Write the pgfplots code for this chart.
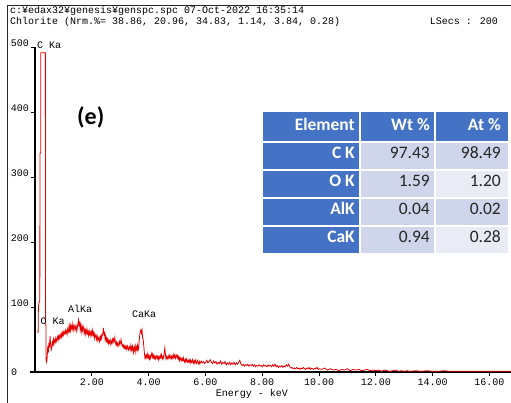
\documentclass[border=0pt]{standalone}
\usepackage{fontspec}
\usepackage{pgfplots}
\pgfplotsset{compat=1.18}
\setmainfont{Carlito}
\newfontfamily\mono{Liberation Mono}
\newcommand{\monof}{\mono\fontsize{10}{11}\selectfont}
\definecolor{hdrblue}{HTML}{4472C4}
\definecolor{cellA}{HTML}{CFD5EA}
\definecolor{cellB}{HTML}{E9EBF5}
\definecolor{specred}{HTML}{E60000}
\definecolor{valtext}{HTML}{262626}
\begin{document}
\begin{tikzpicture}[x=1pt,y=1pt]
\useasboundingbox (0pt,0pt) rectangle (511pt,403pt);
\fill[white] (0pt,0pt) rectangle (511pt,403pt);
% outer frame
\draw[line width=0.9pt, black!85] (7pt,0pt) -- (7pt,398pt) -- (512pt,398pt);
% header text
\node[anchor=base west, inner sep=0pt, font=\monof] at (10pt,389pt) {c:¥edax32¥genesis¥genspc.spc 07-Oct-2022 16:35:14};
\node[anchor=base west, inner sep=0pt, font=\monof] at (10pt,378pt) {Chlorite (Nrm.\%= 38.86, 20.96, 34.83, 1.14, 3.84, 0.28)};
\node[anchor=base east, inner sep=0pt, font=\monof] at (498pt,378pt) {LSecs : 200};

\begin{axis}[
  at={(35pt,31pt)}, anchor=south west,
  scale only axis, width=476pt, height=325pt,
  xmin=0, xmax=16.76, ymin=0, ymax=500,
  axis x line=bottom, axis y line=left,
  axis line style={-, line width=1.2pt, black},
  every inner x axis line/.append style={-},
  every inner y axis line/.append style={-},
  tick align=outside, major tick length=4pt,
  tick style={line width=0.8pt, black},
  xtick={2,4,6,8,10,12,14,16},
  xticklabels={2.00,4.00,6.00,8.00,10.00,12.00,14.00,16.00},
  ytick={100,200,300,400,500},
  yticklabels={100,200,300,400,500},
  tick label style={font=\monof},
  yticklabel style={anchor=south east, inner sep=0pt, xshift=-2pt},
  xticklabel style={anchor=north, inner sep=0pt, yshift=-3pt},
  extra y ticks={0}, extra y tick labels={0},
  extra y tick style={major tick length=0pt, yticklabel style={anchor=west, inner sep=0pt, xshift=-22pt, yshift=0pt}},
  clip mode=individual,
]
\addplot[specred, line width=0.8pt] coordinates {
(0.10,60)(0.11,62)(0.12,100)(0.15,108)(0.17,110)(0.175,337)(0.20,337)(0.205,491)(0.365,491)(0.37,82)(0.385,70)(0.39,18)(0.41,15)(0.43,24)(0.45,40)(0.47,30)(0.49,45)(0.51,38)(0.53,55)(0.55,42)(0.57,34)(0.59,37)(0.61,48)(0.63,40)(0.65,50)(0.67,44)(0.69,49)(0.71,46)(0.73,52)(0.75,47)(0.77,50)(0.79,54)(0.81,49)(0.83,55)(0.85,51)(0.87,56)(0.89,53)(0.91,58)(0.93,54)(0.95,60)(0.97,56)(0.99,62)
(1.01,57)(1.03,61)(1.05,59)(1.07,64)(1.09,60)(1.11,63)(1.13,58)(1.15,66)(1.17,62)(1.19,68)(1.21,61)(1.23,76)(1.25,64)(1.27,70)(1.29,67)(1.31,74)(1.33,66)(1.35,71)(1.37,64)(1.39,69)(1.41,72)(1.43,66)(1.45,70)(1.47,63)(1.49,68)(1.51,74)(1.53,80)(1.55,70)(1.57,78)(1.59,66)(1.61,72)(1.63,62)(1.65,69)(1.67,64)(1.69,71)(1.71,67)(1.73,60)(1.75,65)(1.77,58)(1.79,64)(1.81,60)(1.83,66)(1.85,59)(1.87,62)(1.89,56)(1.91,63)(1.93,58)(1.95,61)(1.97,55)(1.99,62)
(2.01,58)(2.03,64)(2.05,57)(2.07,60)(2.09,52)(2.11,58)(2.13,54)(2.15,56)(2.17,50)(2.19,55)(2.21,49)(2.23,53)(2.25,51)(2.27,47)(2.29,54)(2.31,50)(2.33,56)(2.35,52)(2.37,58)(2.39,60)(2.41,68)(2.43,55)(2.45,62)(2.47,50)(2.49,55)(2.51,48)(2.53,52)(2.55,46)(2.57,50)(2.59,44)(2.61,48)(2.63,45)(2.65,49)(2.67,43)(2.69,47)(2.71,44)(2.73,50)(2.75,46)(2.77,51)(2.79,48)(2.81,53)(2.83,45)(2.85,42)(2.87,46)(2.89,41)(2.91,44)(2.93,40)(2.95,43)(2.97,47)(2.99,42)
(3.01,45)(3.03,50)(3.05,44)(3.07,40)(3.09,42)(3.11,38)(3.13,41)(3.15,37)(3.17,40)(3.19,36)(3.21,39)(3.23,35)(3.25,40)(3.27,37)(3.29,34)(3.31,38)(3.33,36)(3.35,41)(3.37,34)(3.39,38)(3.41,33)(3.43,40)(3.45,36)(3.47,30)(3.49,38)(3.51,34)(3.53,40)(3.55,31)(3.57,38)(3.59,35)(3.61,41)(3.63,33)(3.65,37)(3.67,48)(3.69,58)(3.71,62)(3.73,65)(3.75,60)(3.77,64)(3.79,52)(3.81,50)(3.83,40)(3.85,30)(3.87,22)(3.89,25)(3.91,21)(3.93,26)(3.95,23)(3.97,28)(3.99,22)
(4.01,25)(4.03,20)(4.05,24)(4.07,21)(4.09,26)(4.11,29)(4.13,23)(4.15,27)(4.17,22)(4.19,25)(4.21,21)(4.23,24)(4.25,20)(4.27,23)(4.29,25)(4.31,21)(4.33,24)(4.35,19)(4.37,23)(4.39,21)(4.41,25)(4.43,22)(4.45,27)(4.47,23)(4.49,20)(4.51,24)(4.53,22)(4.55,30)(4.57,37)(4.59,28)(4.61,21)(4.63,24)(4.65,20)(4.67,23)(4.69,21)(4.71,25)(4.73,22)(4.75,26)(4.77,23)(4.79,20)(4.81,24)(4.83,21)(4.85,25)(4.87,22)(4.89,27)(4.91,23)(4.93,26)(4.95,21)(4.97,24)(4.99,26)
(5.01,22)(5.03,25)(5.05,20)(5.07,23)(5.09,18)(5.11,22)(5.13,19)(5.15,21)(5.17,17)(5.19,20)(5.21,18)(5.23,22)(5.25,17)(5.27,15)(5.29,19)(5.31,16)(5.33,20)(5.35,17)(5.37,15)(5.39,18)(5.41,16)(5.43,19)(5.45,15)(5.47,18)(5.49,14)(5.51,17)(5.53,15)(5.55,19)(5.57,16)(5.59,13)(5.61,17)(5.63,14)(5.65,18)(5.67,15)(5.69,13)(5.71,16)(5.73,18)(5.75,14)(5.77,12)(5.79,16)(5.81,13)(5.85,17)(5.89,14)(5.93,16)(5.97,13)
(6.01,15)(6.05,18)(6.09,14)(6.13,16)(6.17,19)(6.21,15)(6.25,13)(6.29,17)(6.33,14)(6.37,16)(6.41,12)(6.45,15)(6.49,13)(6.53,17)(6.57,12)(6.61,15)(6.65,13)(6.69,16)(6.73,11)(6.77,14)(6.81,12)(6.85,15)(6.89,11)(6.93,14)(6.97,12)
(7.01,15)(7.05,11)(7.09,14)(7.13,12)(7.17,15)(7.21,18)(7.25,12)(7.29,10)(7.33,12)(7.37,9)(7.41,11)(7.45,10)(7.49,12)(7.53,9)(7.57,11)(7.61,10)(7.65,12)(7.69,9)(7.73,11)(7.77,8)(7.81,10)(7.85,9)(7.89,11)(7.93,9)(7.97,10)
(8.01,8)(8.05,11)(8.09,9)(8.13,10)(8.17,8)(8.21,11)(8.25,9)(8.29,10)(8.33,8)(8.37,11)(8.41,9)(8.45,12)(8.49,8)(8.53,10)(8.57,7)(8.61,9)(8.65,8)(8.69,10)(8.73,7)(8.77,9)(8.81,8)(8.85,11)(8.89,9)(8.93,12)(8.97,8)
(9.01,6)(9.05,7)(9.09,5)(9.13,6)(9.17,5)(9.21,7)(9.25,5)(9.29,6)(9.33,4)(9.37,6)(9.41,5)(9.45,7)(9.49,5)(9.53,4)(9.57,6)(9.61,5)(9.65,7)(9.69,4)(9.73,6)(9.77,5)(9.81,4)(9.85,6)(9.89,5)(9.93,7)(9.97,4)
(10.01,5)(10.1,4)(10.2,6)(10.3,3)(10.4,5)(10.5,3)(10.6,4)(10.7,2)(10.8,4)(10.9,3)(11.0,5)(11.1,2)(11.2,4)(11.3,3)(11.4,4)(11.5,2)(11.6,3)(11.7,4)(11.8,2)(11.9,3)(12.0,2)(12.1,3)(12.2,1)(12.3,3)(12.4,2)(12.5,1)(12.6,2)(12.7,3)(12.8,1)(12.9,2)(13.0,1)(13.1,2)(13.2,1)(13.4,2)(13.6,1)(13.8,2)(14.0,1)(14.2,1)(14.4,2)(14.6,1)(15.0,1)(15.5,1)(16.0,1)(16.5,1)(16.76,1)
};
\draw[line width=1.2pt, black] (axis cs:0,0) -- ++(-5pt,0pt);
\end{axis}

% peak labels
\node[anchor=west, inner sep=0pt, font=\monof] at (37pt,358pt) {C Ka};
\node[anchor=west, inner sep=0pt, font=\monof] at (40.5pt,82pt) {O Ka};
\node[anchor=west, inner sep=0pt, font=\monof] at (68pt,94pt) {AlKa};
\node[anchor=west, inner sep=0pt, font=\monof] at (132pt,89pt) {CaKa};
% axis label
\node[anchor=center, inner sep=0pt, font=\monof] at (252pt,9pt) {Energy - keV};
% panel label
\node[anchor=west, inner sep=0pt, font=\fontsize{24}{26}\selectfont\bfseries] at (77pt,286pt) {(e)};

% table
\fill[hdrblue] (263pt,291pt) rectangle (359pt,262pt);
\fill[hdrblue] (361pt,291pt) rectangle (434pt,262pt);
\fill[hdrblue] (436pt,291pt) rectangle (508pt,262pt);
\fill[hdrblue] (263pt,260pt) rectangle (359pt,234pt);
\fill[hdrblue] (263pt,232pt) rectangle (359pt,206pt);
\fill[hdrblue] (263pt,204pt) rectangle (359pt,178pt);
\fill[hdrblue] (263pt,176pt) rectangle (359pt,150pt);
\fill[cellA] (361pt,260pt) rectangle (434pt,234pt);
\fill[cellA] (361pt,232pt) rectangle (434pt,206pt);
\fill[cellA] (361pt,204pt) rectangle (434pt,178pt);
\fill[cellA] (361pt,176pt) rectangle (434pt,150pt);
\fill[cellA] (436pt,260pt) rectangle (508pt,234pt);
\fill[cellB] (436pt,232pt) rectangle (508pt,206pt);
\fill[cellA] (436pt,204pt) rectangle (508pt,178pt);
\fill[cellB] (436pt,176pt) rectangle (508pt,150pt);
\begin{scope}[every node/.style={anchor=base east, inner sep=0pt, font=\fontsize{17.5}{19}\selectfont}]
\node[text=white, font=\fontsize{17.5}{19}\selectfont\bfseries] at (355pt,272.5pt) {Element};
\node[text=white, font=\fontsize{17.5}{19}\selectfont\bfseries] at (430pt,272.5pt) {Wt \%};
\node[text=white, font=\fontsize{17.5}{19}\selectfont\bfseries] at (501pt,272.5pt) {At \%};
\node[text=white, font=\fontsize{17.5}{19}\selectfont\bfseries] at (355pt,244.7pt) {C K};
\node[text=white, font=\fontsize{17.5}{19}\selectfont\bfseries] at (355pt,216.7pt) {O K};
\node[text=white, font=\fontsize{17.5}{19}\selectfont\bfseries] at (355pt,188.7pt) {AlK};
\node[text=white, font=\fontsize{17.5}{19}\selectfont\bfseries] at (355pt,160.7pt) {CaK};
\node[text=valtext] at (430pt,244.7pt) {97.43};
\node[text=valtext] at (501pt,244.7pt) {98.49};
\node[text=valtext] at (430pt,216.7pt) {1.59};
\node[text=valtext] at (501pt,216.7pt) {1.20};
\node[text=valtext] at (430pt,188.7pt) {0.04};
\node[text=valtext] at (501pt,188.7pt) {0.02};
\node[text=valtext] at (430pt,160.7pt) {0.94};
\node[text=valtext] at (501pt,160.7pt) {0.28};
\end{scope}
\end{tikzpicture}
\end{document}
